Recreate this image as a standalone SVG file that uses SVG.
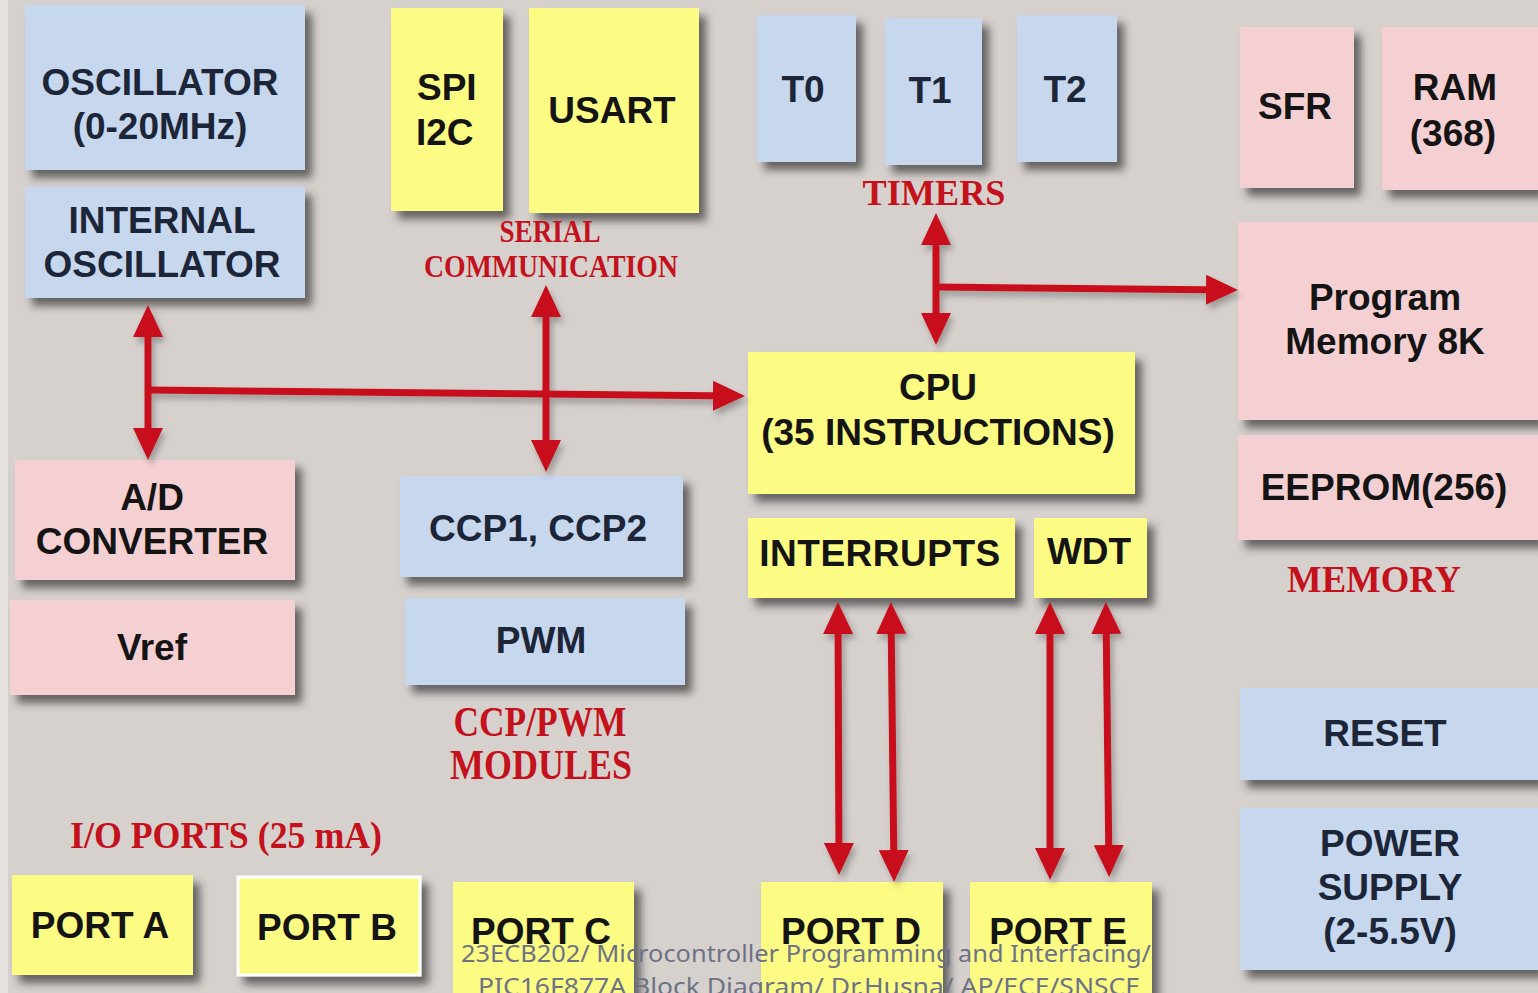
<svg xmlns="http://www.w3.org/2000/svg" width="1538" height="993" viewBox="0 0 1538 993">
<style>
.blue{fill:#c6d7ee}
.yel{fill:#fcfb84}
.pink{fill:#f4d0d2}
.box{filter:url(#sh)}
.t{font-family:"Liberation Sans",Arial,sans-serif;font-weight:bold;font-size:37px;text-anchor:middle;fill:#141414}
.tb{fill:#1c2638}
.lbl{font-family:"Liberation Serif","Times New Roman",serif;font-weight:bold;fill:#c3121c;text-anchor:middle}
.arr{stroke:#c8101a;stroke-width:7;fill:none;marker-end:url(#ah)}
.both{marker-start:url(#ah)}
.wm{font-family:"Noto Sans","Open Sans",sans-serif;font-size:24px;fill:#6d7385;text-anchor:middle}
</style>
<defs>
<filter id="sh" x="-10%" y="-10%" width="130%" height="140%">
<feDropShadow dx="7" dy="8" stdDeviation="4" flood-color="#333" flood-opacity="0.7"/>
</filter>
<filter id="ash" filterUnits="userSpaceOnUse" x="0" y="0" width="1538" height="993">
<feDropShadow dx="3" dy="5" stdDeviation="3" flood-color="#555" flood-opacity="0.45"/>
</filter>
<marker id="ah" viewBox="0 0 32 30" refX="22" refY="15" markerWidth="32" markerHeight="30" markerUnits="userSpaceOnUse" orient="auto-start-reverse">
<path d="M0,0 L32,15 L0,30 z" fill="#c8101a"/>
</marker>
</defs>
<rect x="0" y="0" width="1538" height="993" fill="#d7d1ce"/>
<rect x="0" y="0" width="8" height="993" fill="#e6e2de"/>

<g id="oscillator"><rect class="box blue" x="25" y="5" width="280" height="165"/><text class="t tb" x="160" y="95">OSCILLATOR</text><text class="t tb" x="160" y="139">(0-20MHz)</text></g>
<g id="internal-osc"><rect class="box blue" x="25" y="187" width="280" height="111"/><text class="t tb" x="162" y="233">INTERNAL</text><text class="t tb" x="162" y="277">OSCILLATOR</text></g>
<g id="spi"><rect class="box yel" x="391" y="8" width="112" height="203"/><text class="t" x="417" y="100" style="text-anchor:start">SPI</text><text class="t" x="416" y="145" style="text-anchor:start">I2C</text></g>
<g id="usart"><rect class="box yel" x="529" y="8" width="170" height="205"/><text class="t" x="612" y="123">USART</text></g>
<g id="t0"><rect class="box blue" x="757" y="15" width="99" height="147"/><text class="t tb" x="803" y="102">T0</text></g>
<g id="t1"><rect class="box blue" x="885" y="18" width="97" height="147"/><text class="t tb" x="930" y="103">T1</text></g>
<g id="t2"><rect class="box blue" x="1017" y="15" width="100" height="147"/><text class="t tb" x="1065" y="102">T2</text></g>
<g id="sfr"><rect class="box pink" x="1240" y="27" width="114" height="161"/><text class="t" x="1295" y="119">SFR</text></g>
<g id="ram"><rect class="box pink" x="1382" y="27" width="156" height="163"/><text class="t" x="1455" y="100">RAM</text><text class="t" x="1453" y="146">(368)</text></g>
<g id="progmem"><rect class="box pink" x="1238" y="222" width="300" height="198"/><text class="t" x="1385" y="310">Program</text><text class="t" x="1385" y="354">Memory 8K</text></g>
<g id="eeprom"><rect class="box pink" x="1238" y="435" width="300" height="105"/><text class="t" x="1384" y="500">EEPROM(256)</text></g>
<g id="cpu"><rect class="box yel" x="748" y="352" width="387" height="142"/><text class="t" x="938" y="400">CPU</text><text class="t" x="938" y="445">(35 INSTRUCTIONS)</text></g>
<g id="interrupts"><rect class="box yel" x="748" y="518" width="267" height="80"/><text class="t" x="880" y="566" letter-spacing="0.5">INTERRUPTS</text></g>
<g id="wdt"><rect class="box yel" x="1034" y="518" width="113" height="80"/><text class="t" x="1089" y="564">WDT</text></g>
<g id="adc"><rect class="box pink" x="15" y="460" width="280" height="120"/><text class="t" x="152" y="510">A/D</text><text class="t" x="152" y="554">CONVERTER</text></g>
<g id="vref"><rect class="box pink" x="10" y="600" width="285" height="95"/><text class="t" x="152" y="660">Vref</text></g>
<g id="ccp"><rect class="box blue" x="400" y="476" width="283" height="101"/><text class="t tb" x="538" y="541">CCP1, CCP2</text></g>
<g id="pwm"><rect class="box blue" x="405" y="598" width="280" height="87"/><text class="t tb" x="541" y="653">PWM</text></g>
<g id="reset"><rect class="box blue" x="1240" y="688" width="298" height="92"/><text class="t tb" x="1385" y="746">RESET</text></g>
<g id="power"><rect class="box blue" x="1240" y="808" width="298" height="162"/><text class="t tb" x="1390" y="856">POWER</text><text class="t tb" x="1390" y="900">SUPPLY</text><text class="t tb" x="1390" y="944">(2-5.5V)</text></g>
<g id="porta"><rect class="box yel" x="12" y="875" width="181" height="100"/><text class="t" x="100" y="938">PORT A</text></g>
<g id="portb"><rect class="box yel" x="238" y="877" width="182" height="98" stroke="#ffffff" stroke-width="3"/><text class="t" x="327" y="940">PORT B</text></g>
<g id="portc"><rect class="box yel" x="453" y="882" width="181" height="115"/><text class="t" x="541" y="944">PORT C</text></g>
<g id="portd"><rect class="box yel" x="761" y="882" width="182" height="115"/><text class="t" x="851" y="944">PORT D</text></g>
<g id="porte"><rect class="box yel" x="970" y="882" width="182" height="115"/><text class="t" x="1058" y="944">PORT E</text></g>

<g id="labels">
<text class="lbl" x="550" y="242" font-size="31" textLength="101" lengthAdjust="spacingAndGlyphs">SERIAL</text>
<text class="lbl" x="551" y="277" font-size="31" textLength="254" lengthAdjust="spacingAndGlyphs">COMMUNICATION</text>
<text class="lbl" x="934" y="205" font-size="35" textLength="143" lengthAdjust="spacingAndGlyphs">TIMERS</text>
<text class="lbl" x="1374" y="592" font-size="38" textLength="174" lengthAdjust="spacingAndGlyphs">MEMORY</text>
<text class="lbl" x="540" y="736" font-size="42" textLength="173" lengthAdjust="spacingAndGlyphs">CCP/PWM</text>
<text class="lbl" x="541" y="779" font-size="42" textLength="182" lengthAdjust="spacingAndGlyphs">MODULES</text>
<text class="lbl" x="226" y="848" font-size="38" textLength="312" lengthAdjust="spacingAndGlyphs">I/O PORTS (25 mA)</text>
</g>

<g id="connectors" filter="url(#ash)">
<path class="arr both" d="M148,315 L148,450"/>
<path class="arr" d="M148,390 L735,396"/>
<path class="arr both" d="M546,295 L546,462"/>
<path class="arr both" d="M936,223 L936,335"/>
<path class="arr" d="M936,287 L1228,290"/>
<path class="arr both" d="M838,612 L839,865"/>
<path class="arr both" d="M891,612 L894,872"/>
<path class="arr both" d="M1050,612 L1050,870"/>
<path class="arr both" d="M1106,612 L1109,867"/>
</g>

<g id="watermark">
<text class="wm" x="806" y="962" textLength="690" lengthAdjust="spacingAndGlyphs">23ECB202/ Microcontroller Programming and Interfacing/</text>
<text class="wm" x="809" y="995" textLength="662" lengthAdjust="spacingAndGlyphs">PIC16F877A Block Diagram/ Dr.Husna/ AP/ECE/SNSCE</text>
</g>
</svg>
